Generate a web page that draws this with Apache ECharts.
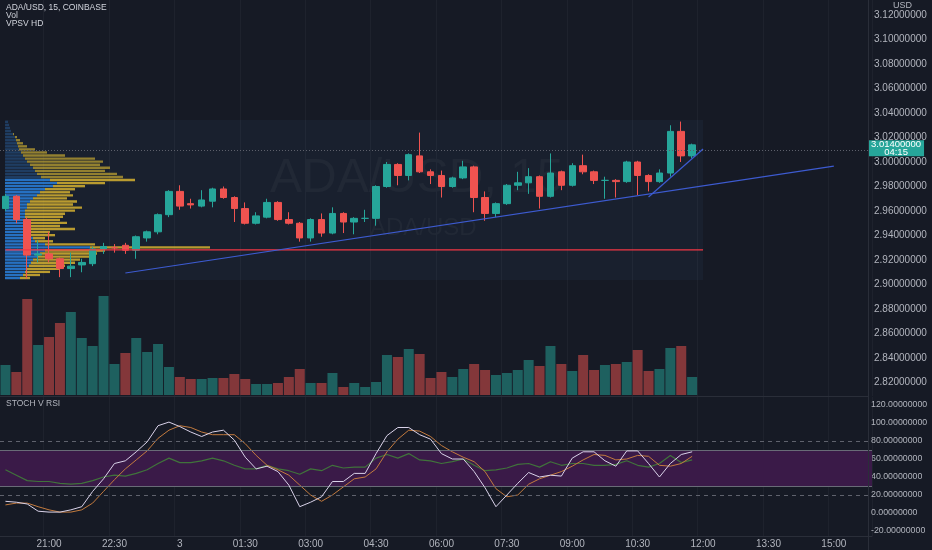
<!DOCTYPE html>
<html><head><meta charset="utf-8">
<script src="https://cdn.jsdelivr.net/npm/echarts@6/dist/echarts.min.js"></script>
<style>html,body{margin:0;padding:0;background:#161a25;}#c{width:932px;height:550px;}</style>
</head><body><div id="c"></div><script>
// ---------- data ----------
const startHour = 20, stepMin = 15, slotCount = 80;
const categories = [];
for (let i = 0; i < slotCount; i++) {
  const m = (startHour * 60 + stepMin * i) % 1440;
  categories.push(String(Math.floor(m / 60)).padStart(2, '0') + ':' + String(m % 60).padStart(2, '0'));
}
// [open, close, low, high]
const candles = [
  [2.962,2.972,2.960,2.974],[2.972,2.953,2.950,2.973],[2.953,2.924,2.905,2.955],[2.924,2.925,2.918,2.936],
  [2.925,2.921,2.918,2.943],[2.921,2.913,2.906,2.922],[2.913,2.915,2.906,2.926],[2.916,2.918,2.910,2.921],
  [2.917,2.929,2.915,2.931],[2.929,2.931,2.925,2.934],[2.930,2.930,2.926,2.933],[2.932,2.928,2.925,2.934],
  [2.928,2.939,2.921,2.940],[2.938,2.943,2.935,2.944],[2.943,2.957,2.941,2.958],[2.957,2.976,2.955,2.977],
  [2.976,2.964,2.961,2.981],[2.966,2.965,2.962,2.970],[2.964,2.969,2.963,2.977],[2.968,2.978,2.963,2.979],
  [2.978,2.971,2.970,2.980],[2.971,2.962,2.951,2.972],[2.962,2.950,2.949,2.967],[2.950,2.956,2.949,2.959],
  [2.955,2.967,2.954,2.970],[2.967,2.953,2.952,2.968],[2.953,2.950,2.949,2.959],[2.950,2.938,2.935,2.951],
  [2.938,2.953,2.935,2.954],[2.953,2.942,2.939,2.958],[2.942,2.958,2.941,2.963],[2.958,2.951,2.942,2.959],
  [2.951,2.954,2.941,2.955],[2.954,2.954,2.951,2.961],[2.954,2.980,2.948,2.981],[2.980,2.998,2.979,3.000],
  [2.998,2.989,2.981,2.999],[2.989,3.006,2.985,3.007],[3.005,2.992,2.991,3.024],[2.992,2.989,2.982,2.994],
  [2.989,2.980,2.971,2.993],[2.980,2.987,2.979,2.988],[2.987,2.996,2.986,3.001],[2.996,2.971,2.959,2.997],
  [2.971,2.958,2.952,2.976],[2.958,2.966,2.955,2.967],[2.966,2.981,2.965,2.982],[2.981,2.983,2.977,2.992],
  [2.983,2.988,2.974,2.995],[2.988,2.972,2.962,2.989],[2.972,2.991,2.971,3.007],[2.992,2.981,2.977,2.993],
  [2.981,2.997,2.980,2.999],[2.997,2.992,2.990,3.006],[2.992,2.985,2.982,2.993],[2.985,2.985,2.970,2.988],
  [2.985,2.984,2.971,2.986],[2.984,3.000,2.983,3.001],[3.000,2.989,2.973,3.001],[2.989,2.984,2.976,2.990],
  [2.984,2.991,2.983,2.994],[2.991,3.025,2.988,3.030],[3.025,3.005,3.000,3.033],[3.005,3.014,3.003,3.015]
];
const volumes = [30,23,96,50,58,72,83,57,49,99,31,42,57,43,51,28,18,16,16,17,17,21,16,11,11,12,18,26,12,12,22,8,
  12,8,13,40,38,46,41,17,23,18,26,31,25,20,22,25,35,29,49,31,24,40,25,30,31,33,45,24,26,47,49,18];
const stochK = [13,12,10,2,1,1,3.5,7,24,38,55,58,68,79,97,101,96,90,85,90,92,81,62,49,52,46,31,7,12,18,35,35,
  44,44,66,86,95,95,87,82,66,60,60,46,28,7,20,33,45,40,42,41,61,68,68,58,52,69,69,55,40,55,65,68];
const stochD = [9,11,11,7,3.5,1,1,3.5,11,24,37,49,59,69,83,92,97,95,90,87,87,87,77,64,53,48,42,31,20,13,20,29,
  38,40,49,68,82,92,91,85,75,68,62,57,46,27,18,20,32,38,42,46,52,59,65,64,59,60,64,63,53,52,55,63];
const rsiLine = [48,42,36,35,35,33,32,33,36,40,42,41,44,48,55,61,56,56,58,61,58,53,49,49,53,49,47,43,49,47,53,50,
  51,51,61,65,61,66,59,58,55,57,60,53,47,48,50,54,55,51,57,53,55,55,53,53,54,58,53,51,55,64,56,59];
// volume profile rows: price level, up volume, total volume
const profilePrice = [3.0325,3.0300,3.0275,3.0250,3.0225,3.0200,3.0175,3.0150,3.0125,3.0100,3.0075,3.0050,3.0025,3.0000,
  2.9975,2.9950,2.9925,2.9900,2.9875,2.9850,2.9825,2.9800,2.9775,2.9750,2.9725,2.9700,2.9675,2.9650,2.9625,2.9600,
  2.9575,2.9550,2.9525,2.9500,2.9475,2.9450,2.9425,2.9400,2.9375,2.9350,2.9325,2.9300,2.9275,2.9250,2.9225,2.9200,
  2.9175,2.9150,2.9125,2.9100,2.9075,2.9050];
const profileUp = [3,4,5,6,8,10,11,12,13,14,16,18,20,22,25,28,30,32,36,45,52,48,40,35,32,28,25,22,22,20,20,20,20,22,22,22,
  24,25,28,30,40,85,40,35,32,28,26,24,22,20,18,15];
const profileTotal = [3,4,5,6,9,12,15,18,22,30,42,60,90,98,95,105,100,112,118,130,100,80,70,65,68,62,72,68,77,70,60,58,55,
  62,55,70,45,50,40,48,90,205,100,92,88,75,70,60,55,45,35,25];
const currentPrice = 3.014, countdown = '04:15', pocPrice = 2.9282;
const pocLine = [[0, pocPrice], [64, pocPrice]];
const trendA = [[11, 2.9094], [76, 2.9967]];
const trendB = [[59, 2.9714], [64, 3.0106]];
const profileBox = [[0, 3.0343], [64, 2.9037]];

// ---------- chart ----------
const UP = '#26a69a', DN = '#ef5350';
const labelInt = (idx) => idx >= 4 && (idx - 4) % 6 === 0;
const fmtTime = (v) => v === '00:00' ? '3' : v;
const font = 'Liberation Sans, DejaVu Sans, sans-serif';
const gridW = 872;
const gridSplit = { show: true, interval: labelInt, lineStyle: { color: '#1e222d' } };

const volData = volumes.map((v, i) => ({
  value: v,
  itemStyle: { color: candles[i][1] >= candles[i][0] ? 'rgba(38,166,154,0.5)' : 'rgba(239,83,80,0.5)' }
}));
const profData = profilePrice.map((p, i) => [p, profileUp[i], profileTotal[i] - profileUp[i]]);
const drawLine = (data, color, z) => ({
  type: 'line', xAxisIndex: 0, yAxisIndex: 0, data: data, z: z, silent: true, showSymbol: false, symbol: 'none',
  lineStyle: { color: color, width: 1.2, opacity: 1 }, itemStyle: { color: color }, color: color, animation: false
});
const g = (top, height) => ({ left: 0, width: gridW, top: top, height: height, containLabel: false, outerBoundsMode: 'none' });

const chart = echarts.init(document.getElementById('c'), null, { renderer: 'canvas' });
chart.setOption({
  backgroundColor: '#161a25',
  animation: false,
  textStyle: { fontFamily: font },
  grid: [
    g(15, 392),   // price: 3.12 .. 2.80
    g(290, 105),  // volume
    g(387, 162),  // stoch: 140 .. -40
    g(397, 139),  // time axis
    g(0, 396)     // upper pane grid lines
  ],
  xAxis: [
    { type: 'category', gridIndex: 0, data: categories, show: false },
    { type: 'category', gridIndex: 1, data: categories, show: false },
    { type: 'category', gridIndex: 2, data: categories, show: false },
    { type: 'category', gridIndex: 3, data: categories,
      axisLine: { show: true, lineStyle: { color: '#2a2e39' } }, axisTick: { show: false },
      axisLabel: { interval: labelInt, formatter: fmtTime, color: '#b2b5be', fontSize: 10, margin: 3, fontFamily: font },
      splitLine: gridSplit },
    { type: 'value', gridIndex: 0, min: -5, max: 867, show: false, position: 'top' },
    { type: 'category', gridIndex: 4, data: categories, axisLine: { show: false }, axisTick: { show: false },
      axisLabel: { show: false }, splitLine: gridSplit }
  ],
  yAxis: [
    { type: 'value', gridIndex: 0, position: 'right', offset: -4, min: 2.80, max: 3.12, interval: 0.02,
      axisLine: { show: false }, axisTick: { show: false }, splitLine: { show: false },
      axisLabel: { formatter: (v) => v.toFixed(8), margin: 6, showMinLabel: false, showMaxLabel: true,
        color: '#b2b5be', fontSize: 10, fontFamily: font } },
    { type: 'value', gridIndex: 1, min: 0, max: 105, show: false },
    { type: 'value', gridIndex: 2, position: 'right', offset: -4, min: -40, max: 140, interval: 20,
      axisLine: { show: false }, axisTick: { show: false }, splitLine: { show: false },
      axisLabel: { formatter: (v) => v.toFixed(8), margin: 3, showMinLabel: false, showMaxLabel: false,
        color: '#b2b5be', fontSize: 8.8, fontFamily: font } },
    { type: 'value', gridIndex: 3, show: false },
    { type: 'value', gridIndex: 4, show: false }
  ],
  graphic: [
    { type: 'text', left: 6, top: 3, z: 100, style: { text: 'ADA/USD, 15, COINBASE', fill: '#d1d4dc', fontSize: 8.5, fontFamily: font } },
    { type: 'text', left: 6, top: 11, z: 100, style: { text: 'Vol', fill: '#d1d4dc', fontSize: 8.5, fontFamily: font } },
    { type: 'text', left: 6, top: 19, z: 100, style: { text: 'VPSV HD', fill: '#d1d4dc', fontSize: 8.5, fontFamily: font } },
    { type: 'text', left: 893, top: 1, z: 100, style: { text: 'USD', fill: '#b2b5be', fontSize: 9, fontFamily: font } },
    { type: 'text', left: 6, top: 399, z: 100, style: { text: 'STOCH V RSI', fill: '#b2b5be', fontSize: 8.5, fontFamily: font } },
    { type: 'text', left: 270, top: 155, z: -1, style: { text: 'ADA/USD, 15', fill: 'rgba(255,255,255,0.035)', fontSize: 48, fontFamily: font } },
    { type: 'text', left: 370, top: 216, z: -1, style: { text: 'ADA/USD', fill: 'rgba(255,255,255,0.035)', fontSize: 24, fontFamily: font } },
    { type: 'line', z: 100, shape: { x1: 0, y1: 396.5, x2: 868, y2: 396.5 }, style: { stroke: '#2a2e39', lineWidth: 1 } },
    { type: 'line', z: 100, shape: { x1: 868.5, y1: 0, x2: 868.5, y2: 550 }, style: { stroke: '#2a2e39', lineWidth: 1 } }
  ],
  series: [
    {
      type: 'custom', xAxisIndex: 4, yAxisIndex: 0, z: 1, silent: true,
      data: profData, encode: { x: [1, 2], y: 0 },
      renderItem: (params, api) => {
        const p = api.value(0), up = api.value(1), dn = api.value(2), h = 0.00125;
        const a = api.coord([0, p + h]);
        const b = api.coord([up, p - h]);
        const c = api.coord([up + dn, p - h]);
        const va = p <= 2.986;
        const hh = Math.max(1, b[1] - a[1] - 0.7);
        return { type: 'group', children: [
          { type: 'rect', shape: { x: a[0], y: a[1], width: b[0] - a[0], height: hh },
            style: { fill: va ? 'rgba(41,128,220,0.85)' : 'rgba(38,90,150,0.5)' } },
          { type: 'rect', shape: { x: b[0], y: a[1], width: c[0] - b[0], height: hh },
            style: { fill: va ? 'rgba(214,178,48,0.85)' : 'rgba(200,170,50,0.7)' } }
        ] };
      }
    },
    {
      type: 'candlestick', xAxisIndex: 0, yAxisIndex: 0, z: 3, barWidth: 7,
      data: candles,
      itemStyle: { color: UP, color0: DN, borderColor: UP, borderColor0: DN, borderWidth: 1 },
      markArea: { silent: true, itemStyle: { color: 'rgba(90,130,210,0.06)' },
        data: [[{ coord: profileBox[0] }, { coord: profileBox[1] }]] },
      markLine: {
        silent: true, symbol: 'none', animation: false, label: { show: false },
        data: [ { yAxis: currentPrice, lineStyle: { color: '#5d606b', width: 1, type: [1, 2] } } ]
      },
      markPoint: {
        silent: true, animation: false,
        data: [{
          coord: [79, currentPrice], symbol: 'rect', symbolSize: [56, 16], symbolOffset: [29.5, 3.5],
          itemStyle: { color: UP },
          label: { show: true, position: 'inside', formatter: currentPrice.toFixed(8) + '\n' + countdown,
            color: '#ffffff', fontSize: 9.5, lineHeight: 8, fontFamily: font, align: 'center' }
        }]
      }
    },
    drawLine(pocLine, '#f23645', 4),
    drawLine(trendA, '#3d5bd1', 4),
    drawLine(trendB, '#3d5bd1', 4),
    { type: 'bar', xAxisIndex: 1, yAxisIndex: 1, data: volData, barWidth: 10, z: 2 },
    {
      type: 'line', xAxisIndex: 2, yAxisIndex: 2, data: rsiLine, showSymbol: false, z: 3,
      lineStyle: { color: '#40733b', width: 1.2 },
      markArea: { silent: true, itemStyle: { color: '#3a1a48' }, data: [[{ yAxis: 70 }, { yAxis: 30 }]] },
      markLine: { silent: true, symbol: 'none', label: { show: false },
        data: [
          { yAxis: 70, lineStyle: { color: '#686b77', type: 'solid', width: 1 } },
          { yAxis: 30, lineStyle: { color: '#686b77', type: 'solid', width: 1 } },
          { yAxis: 80, lineStyle: { color: '#5f626d', type: [4, 4], width: 1 } },
          { yAxis: 20, lineStyle: { color: '#5f626d', type: [4, 4], width: 1 } }
        ] }
    },
    { type: 'line', xAxisIndex: 2, yAxisIndex: 2, data: stochD, showSymbol: false, z: 4,
      lineStyle: { color: '#c27a3e', width: 1 } },
    { type: 'line', xAxisIndex: 2, yAxisIndex: 2, data: stochK, showSymbol: false, z: 5,
      lineStyle: { color: '#d9d2e9', width: 1 } }
  ]
});
</script></body></html>
